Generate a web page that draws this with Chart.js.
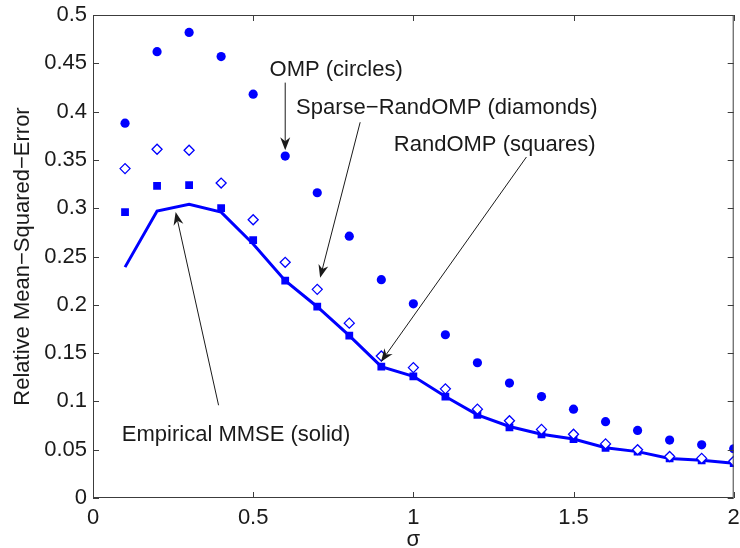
<!DOCTYPE html>
<html>
<head>
<meta charset="utf-8">
<script src="https://cdn.jsdelivr.net/npm/chart.js@4/dist/chart.umd.min.js"></script>
<style>
  body { margin: 0; background: #fff; }
  canvas { display: block; }
</style>
</head>
<body>
<canvas id="myChart" width="740" height="548"></canvas>
<script>
// sigma values (x) and the four curves
var sigma = [0.1, 0.2, 0.3, 0.4, 0.5, 0.6, 0.7, 0.8, 0.9, 1.0,
             1.1, 1.2, 1.3, 1.4, 1.5, 1.6, 1.7, 1.8, 1.9, 2.0];
var ompErr = [0.388, 0.462, 0.482, 0.457, 0.418, 0.354, 0.316, 0.271, 0.226, 0.201,
              0.169, 0.140, 0.119, 0.105, 0.092, 0.079, 0.070, 0.060, 0.055, 0.051];
var sparseErr = [0.341, 0.361, 0.360, 0.326, 0.288, 0.244, 0.216, 0.181, 0.147, 0.135,
                 0.113, 0.092, 0.080, 0.071, 0.066, 0.056, 0.050, 0.043, 0.041, 0.038];
var randErr = [0.296, 0.323, 0.324, 0.300, 0.267, 0.225, 0.198, 0.168, 0.136, 0.126,
               0.105, 0.086, 0.073, 0.066, 0.061, 0.052, 0.048, 0.041, 0.039, 0.036];
var mmseErr = [0.239, 0.297, 0.304, 0.296, 0.263, 0.225, 0.198, 0.168, 0.136, 0.126,
               0.105, 0.086, 0.074, 0.066, 0.061, 0.052, 0.048, 0.041, 0.039, 0.036];

var xTicks = [0, 0.5, 1, 1.5, 2];
var xTickLabels = ["0", "0.5", "1", "1.5", "2"];
var yTicks = [0, 0.05, 0.1, 0.15, 0.2, 0.25, 0.3, 0.35, 0.4, 0.45, 0.5];
var yTickLabels = ["0", "0.05", "0.1", "0.15", "0.2", "0.25", "0.3", "0.35", "0.4", "0.45", "0.5"];

var xTitle = "\u03c3";
var yTitle = "Relative Mean\u2212Squared\u2212Error";

// annotations: text anchor and arrow (tail -> head), all in data units
var notes = [
  { text: "OMP (circles)",              tx: 0.551, ty: 0.443, from: [0.600, 0.430], to: [0.600, 0.360] },
  { text: "Sparse\u2212RandOMP (diamonds)", tx: 0.634, ty: 0.404, from: [0.834, 0.389], to: [0.709, 0.228] },
  { text: "RandOMP (squares)",          tx: 0.939, ty: 0.365, from: [1.353, 0.353], to: [0.899, 0.141] },
  { text: "Empirical MMSE (solid)",     tx: 0.090, ty: 0.065, from: [0.392, 0.096], to: [0.258, 0.296] }
];

var FONT = "'Liberation Sans', Arial, Helvetica, sans-serif";
var BLUE = "#0000ff";

function pts(ys) {
  return sigma.map(function(s, i) { return { x: s, y: ys[i] }; });
}

function arrow(ctx, x1, y1, x2, y2) {
  var ang = Math.atan2(y2 - y1, x2 - x1);
  var len = 13, w = 5, back = 9;
  ctx.beginPath();
  ctx.moveTo(x1, y1);
  ctx.lineTo(x2 - Math.cos(ang) * back, y2 - Math.sin(ang) * back);
  ctx.stroke();
  ctx.save();
  ctx.translate(x2, y2);
  ctx.rotate(ang);
  ctx.beginPath();
  ctx.moveTo(0, 0);
  ctx.lineTo(-len, -w);
  ctx.lineTo(-back, 0);
  ctx.lineTo(-len, w);
  ctx.closePath();
  ctx.fill();
  ctx.restore();
}

// box, inward ticks, axis titles and the arrows
var matlabAxes = {
  id: 'matlabAxes',
  afterDraw: function(chart) {
    var ctx = chart.ctx, a = chart.chartArea;
    var xs = chart.scales.x, ys = chart.scales.y;
    ctx.save();
    ctx.strokeStyle = "#3c3c3c";
    ctx.lineWidth = 1;
    ctx.strokeRect(a.left + 0.5, a.top + 0.5, a.right - a.left - 1, a.bottom - a.top - 1);
    ctx.beginPath();
    xTicks.forEach(function(v) {
      var px = Math.round(xs.getPixelForValue(v)) + 0.5;
      ctx.moveTo(px, a.bottom); ctx.lineTo(px, a.bottom - 6);
      ctx.moveTo(px, a.top); ctx.lineTo(px, a.top + 6);
    });
    yTicks.forEach(function(v) {
      var py = Math.round(ys.getPixelForValue(v)) + 0.5;
      ctx.moveTo(a.left, py); ctx.lineTo(a.left + 6, py);
      ctx.moveTo(a.right, py); ctx.lineTo(a.right - 6, py);
    });
    ctx.stroke();

    ctx.fillStyle = "#1a1a1a";
    ctx.font = "22px " + FONT;
    ctx.textAlign = "center";
    ctx.textBaseline = "alphabetic";
    ctx.fillText(xTitle, (a.left + a.right) / 2, 546);
    ctx.save();
    ctx.translate(23, (a.top + a.bottom) / 2);
    ctx.rotate(-Math.PI / 2);
    ctx.textBaseline = "middle";
    ctx.fillText(yTitle, 0, 0);
    ctx.restore();

    ctx.strokeStyle = "#1a1a1a";
    ctx.lineWidth = 1;
    notes.forEach(function(n) {
      ctx.textAlign = "left";
      ctx.textBaseline = "middle";
      ctx.fillText(n.text, xs.getPixelForValue(n.tx), ys.getPixelForValue(n.ty));
      arrow(ctx,
        xs.getPixelForValue(n.from[0]), ys.getPixelForValue(n.from[1]),
        xs.getPixelForValue(n.to[0]), ys.getPixelForValue(n.to[1]));
    });
    ctx.restore();
  }
};

var ctx = document.getElementById('myChart').getContext('2d');
var chart = new Chart(ctx, {
  type: 'scatter',
  data: {
    datasets: [{
      label: "Sparse-RandOMP",
      data: pts(sparseErr),
      pointStyle: 'rectRot',
      pointRadius: 5,
      pointBorderWidth: 1.3,
      borderColor: BLUE,
      backgroundColor: "#ffffff",
      showLine: false
    }, {
      label: "RandOMP",
      data: pts(randErr),
      pointStyle: 'rect',
      pointRadius: 5.5,
      pointBorderWidth: 0,
      borderColor: BLUE,
      backgroundColor: BLUE,
      showLine: false
    }, {
      label: "Empirical MMSE",
      data: pts(mmseErr),
      showLine: true,
      pointRadius: 0,
      borderWidth: 3,
      borderColor: BLUE,
      backgroundColor: BLUE,
      tension: 0
    }, {
      label: "OMP",
      data: pts(ompErr),
      pointStyle: 'circle',
      pointRadius: 4.6,
      pointBorderWidth: 0,
      borderColor: BLUE,
      backgroundColor: BLUE,
      showLine: false
    }]
  },
  options: {
    responsive: false,
    animation: false,
    events: [],
    layout: { padding: { left: 0, right: 4, top: 15, bottom: 0 } },
    plugins: { legend: { display: false }, tooltip: { enabled: false } },
    scales: {
      x: {
        type: 'linear', min: 0, max: 2,
        afterBuildTicks: function(s) { s.ticks = xTicks.map(function(v) { return { value: v }; }); },
        afterFit: function(s) { s.height = 50; s.paddingLeft = 0; s.paddingRight = 0; },
        grid: { display: false, drawTicks: false },
        border: { display: false },
        ticks: {
          padding: 7, maxRotation: 0, autoSkip: false,
          color: "#1a1a1a", font: { family: FONT, size: 22 },
          callback: function(v, i) { return xTickLabels[i]; }
        }
      },
      y: {
        type: 'linear', min: 0, max: 0.5,
        afterBuildTicks: function(s) { s.ticks = yTicks.map(function(v) { return { value: v }; }); },
        afterFit: function(s) { s.width = 93; s.paddingTop = 0; s.paddingBottom = 0; },
        grid: { display: false, drawTicks: false },
        border: { display: false },
        ticks: {
          padding: 6, autoSkip: false,
          color: "#1a1a1a", font: { family: FONT, size: 22 },
          callback: function(v, i) { return yTickLabels[i]; }
        }
      }
    }
  },
  plugins: [matlabAxes]
});
</script>
</body>
</html>
